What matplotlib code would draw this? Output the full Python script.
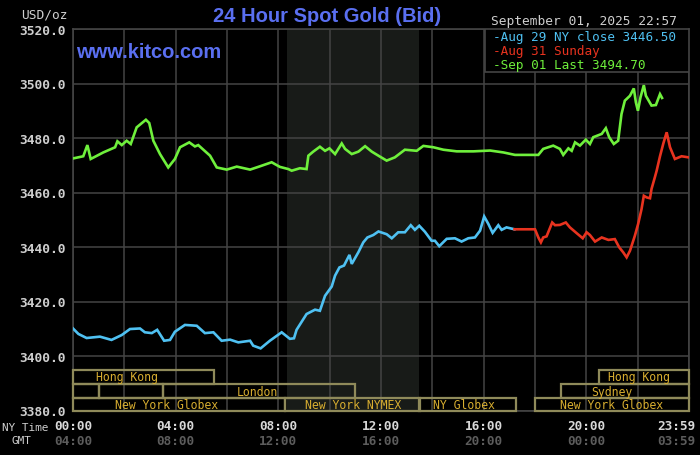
import matplotlib
matplotlib.use("Agg")
import matplotlib.pyplot as plt
from matplotlib.patches import Rectangle
from matplotlib.transforms import blended_transform_factory

# ---------------- data ----------------
blue_hours = [0.0, 0.21, 0.53, 1.05, 1.5, 1.9, 2.22, 2.61, 2.8, 3.07, 3.28, 3.55, 3.78, 3.97,
              4.36, 4.82, 5.14, 5.47, 5.79, 6.12, 6.44, 6.9, 7.02, 7.31, 7.67, 8.13, 8.45,
              8.61, 8.71, 9.1, 9.43, 9.62, 9.82, 10.08, 10.21, 10.38, 10.56, 10.77, 10.86,
              11.12, 11.31, 11.47, 11.7, 11.9, 12.22, 12.42, 12.67, 12.93, 13.16, 13.32,
              13.49, 13.71, 13.97, 14.1, 14.27, 14.56, 14.88, 15.14, 15.4, 15.66, 15.86,
              16.02, 16.18, 16.35, 16.57, 16.7, 16.89, 17.2]
blue_vals = [3410.1, 3408.1, 3406.6, 3407.1, 3405.9, 3407.7, 3409.9, 3410.1, 3408.7, 3408.4,
             3409.6, 3405.6, 3405.9, 3408.9, 3411.4, 3411.1, 3408.4, 3408.7, 3405.6, 3406.0,
             3405.0, 3405.6, 3403.8, 3402.8, 3405.6, 3408.7, 3406.3, 3406.5, 3409.6, 3415.4,
             3417.0, 3416.6, 3422.1, 3425.5, 3429.5, 3432.5, 3433.2, 3437.1, 3433.8, 3438.1,
             3441.7, 3443.5, 3444.4, 3445.7, 3444.7, 3443.2, 3445.4, 3445.4, 3448.0, 3446.3,
             3447.8, 3445.6, 3442.3, 3442.3, 3440.3, 3443.0, 3443.2, 3442.0, 3443.2, 3443.5,
             3446.0, 3451.2, 3448.5, 3445.2, 3448.0, 3446.3, 3447.2, 3446.5]

red_hours = [17.2, 18.0, 18.13, 18.23, 18.32, 18.45, 18.67, 18.78, 18.97, 19.2, 19.36, 19.62,
             19.86, 20.01, 20.14, 20.34, 20.6, 20.86, 21.11, 21.28, 21.44, 21.57, 21.7,
             21.89, 22.02, 22.15, 22.24, 22.35, 22.48, 22.54, 22.67, 22.74, 22.87, 23.0,
             23.13, 23.26, 23.45, 23.71, 23.98]
red_vals = [3446.5, 3446.5, 3443.5, 3441.7, 3443.5, 3443.9, 3449.0, 3448.0, 3448.1, 3449.0,
            3447.2, 3445.1, 3443.2, 3445.4, 3444.4, 3442.0, 3443.5, 3442.6, 3442.9, 3439.9,
            3438.0, 3436.2, 3438.6, 3444.1, 3448.5, 3453.9, 3458.8, 3458.2, 3457.9, 3461.3,
            3465.6, 3468.0, 3473.3, 3478.0, 3482.1, 3476.6, 3472.3, 3473.3, 3472.9]

green_hours = [0.0, 0.4, 0.56, 0.69, 1.18, 1.64, 1.73, 1.9, 2.09, 2.25, 2.48, 2.84, 2.97, 3.13,
               3.39, 3.71, 3.97, 4.17, 4.53, 4.75, 4.88, 5.34, 5.6, 5.99, 6.38, 6.9, 7.28,
               7.74, 8.06, 8.39, 8.52, 8.84, 9.1, 9.17, 9.36, 9.62, 9.82, 9.99, 10.21, 10.47,
               10.6, 10.86, 11.12, 11.38, 11.64, 11.9, 12.22, 12.54, 12.93, 13.39, 13.65,
               14.04, 14.43, 14.95, 15.6, 16.25, 16.77, 17.22, 18.13, 18.32, 18.71, 18.97,
               19.1, 19.3, 19.43, 19.56, 19.75, 19.98, 20.14, 20.27, 20.6, 20.76, 20.89,
               21.07, 21.24, 21.37, 21.5, 21.7, 21.85, 21.93, 22.01, 22.11, 22.24, 22.32,
               22.54, 22.71, 22.87, 22.95]
green_vals = [3472.5, 3473.3, 3477.4, 3472.3, 3474.7, 3476.6, 3478.8, 3477.4, 3479.0, 3477.8,
              3483.9, 3486.7, 3485.5, 3479.0, 3474.1, 3469.2, 3472.3, 3476.6, 3478.4, 3476.9,
              3477.4, 3473.5, 3469.2, 3468.4, 3469.5, 3468.4, 3469.6, 3471.1, 3469.4, 3468.6,
              3468.0, 3468.9, 3468.6, 3473.5, 3475.0, 3476.8, 3475.3, 3476.2, 3474.1, 3478.0,
              3476.0, 3474.1, 3475.0, 3477.0, 3475.0, 3473.5, 3471.7, 3472.9, 3475.7, 3475.3,
              3477.1, 3476.6, 3475.7, 3475.1, 3475.1, 3475.4, 3474.7, 3473.8, 3473.8, 3476.0,
              3477.2, 3476.0, 3473.8, 3476.2, 3475.3, 3478.4, 3477.2, 3479.4, 3477.8, 3480.3,
              3481.5, 3483.6, 3480.3, 3477.8, 3479.0, 3488.8, 3493.7, 3495.5, 3498.2, 3493.1,
              3490.0, 3494.9, 3499.4, 3495.5, 3491.9, 3492.1, 3496.1, 3494.7]

legend_labels = ["-Aug 29 NY close 3446.50", "-Aug 31 Sunday", "-Sep 01 Last 3494.70"]
series_colors = ["#4fc1f2", "#e8331f", "#6ff03c"]

y_ticks = [3380, 3400, 3420, 3440, 3460, 3480, 3500, 3520]
ny_tick_labels = ["00:00", "04:00", "08:00", "12:00", "16:00", "20:00", "23:59"]
gmt_tick_labels = ["04:00", "08:00", "12:00", "16:00", "20:00", "00:00", "03:59"]
tick_hours = [0, 4, 8, 12, 16, 20, 23.5]

# sessions: (label, start, end, row, label_x)
sessions = [
    ("Hong Kong", 0.0, 5.5, 0, 2.12),
    ("", 0.0, 1.0, 1, None),
    ("", 1.0, 3.5, 1, None),
    ("London", 3.5, 11.0, 1, 7.17),
    ("New York Globex", 0.0, 8.25, 2, 3.66),
    ("New York NYMEX", 8.25, 13.5, 2, 10.9),
    ("NY Globex", 13.5, 17.25, 2, 15.22),
    ("New York Globex", 18.0, 24.0, 2, 20.98),
    ("Sydney", 19.0, 24.0, 1, 20.98),
    ("Hong Kong", 20.5, 24.0, 0, 22.06),
]
nymex_shade = (8.333, 13.5)

# ---------------- figure ----------------
W, H = 700, 456
fig = plt.figure(figsize=(7, 4.56), dpi=100, facecolor="black")
L, R, T, B = 73, 689, 30, 411.5
ax = fig.add_axes([L / W, 1 - B / H, (R - L) / W, (B - T) / H])
ax.set_facecolor("black")
ax.set_xlim(0, 24)
ax.set_ylim(3380, 3520)

grid_c = "#444444"
for s in ax.spines.values():
    s.set_color(grid_c)
    s.set_linewidth(1.2)

ax.axvspan(nymex_shade[0], nymex_shade[1], color="#181b18", zorder=0, lw=0)
ax.set_xticks(list(range(0, 25, 2)))
ax.set_yticks(y_ticks)
ax.grid(True, color=grid_c, lw=1.1, zorder=1)
ax.tick_params(axis="both", length=0)
ax.set_xticklabels([])
ax.set_yticklabels([f"{v:.1f}" for v in y_ticks], family="DejaVu Sans Mono",
                   fontsize=9.3, color="#cfcfcf", fontweight="bold")
ax.tick_params(axis="y", pad=5)

# sessions
row_bounds = [(3389.8, 3395.0), (3384.5, 3389.8), (3380.0, 3384.5)]
sess_edge = "#8f8a5a"
sess_text = "#d8ae30"
for label, s0, s1, row, lx in sessions:
    y0, y1 = row_bounds[row]
    ax.add_patch(Rectangle((s0, y0), s1 - s0, y1 - y0, fill=False, ec=sess_edge,
                           lw=1.6, zorder=3, clip_on=False))
    if label:
        ax.text(lx, (y0 + y1) / 2, label, ha="center", va="center",
                family="DejaVu Sans Mono", fontsize=8.3, color=sess_text, zorder=4)

# lines
ax.plot(blue_hours, blue_vals, color=series_colors[0], lw=1.9, zorder=5,
        solid_joinstyle="miter")
ax.plot(red_hours, red_vals, color=series_colors[1], lw=1.9, zorder=5,
        solid_joinstyle="miter")
ax.plot(green_hours, green_vals, color=series_colors[2], lw=1.9, zorder=6,
        solid_joinstyle="miter")

# legend box
lx0 = (485 - L) / (R - L) * 24
ly0 = 3520 - (72.7 - T) / (B - T) * 140
ax.add_patch(Rectangle((lx0, ly0), 24 - lx0, 3520 - ly0, fc="black", ec=grid_c,
                       lw=1.2, zorder=7))
for i, (lab, col) in enumerate(zip(legend_labels, series_colors)):
    fig.text(493 / W, 1 - (37.7 + 13.8 * i) / H, lab, ha="left", va="center",
             family="DejaVu Sans Mono", fontsize=9.1, color=col, zorder=8)

# header texts
fig.text(327 / W, 1 - 16 / H, "24 Hour Spot Gold (Bid)", ha="center", va="center",
         family="Liberation Sans", fontsize=14.5, color="#5a6ff0", fontweight="bold")
fig.text(76 / W, 1 - 53 / H, "www.kitco.com", ha="left", va="center",
         family="Liberation Sans", fontsize=14.5, color="#5a6ff0", fontweight="bold")
fig.text(68 / W, 1 - 14.5 / H, "USD/oz", ha="right", va="center",
         family="DejaVu Sans Mono", fontsize=9.3, color="#cfcfcf")
fig.text(677 / W, 1 - 22 / H, "September 01, 2025 22:57", ha="right", va="center",
         family="DejaVu Sans Mono", fontsize=9.3, color="#cfcfcf")

# x labels
tr = blended_transform_factory(ax.transData, fig.transFigure)
for h, ny, gmt in zip(tick_hours, ny_tick_labels, gmt_tick_labels):
    ax.text(h, 1 - 427 / H, ny, transform=tr, ha="center", va="center",
            family="DejaVu Sans Mono", fontsize=9.2, color="#d8d8d8", fontweight="bold")
    ax.text(h, 1 - 442 / H, gmt, transform=tr, ha="center", va="center",
            family="DejaVu Sans Mono", fontsize=9.2, color="#5c5c5c", fontweight="bold")
fig.text(2 / W, 1 - 428 / H, "NY Time", ha="left", va="center",
         family="DejaVu Sans Mono", fontsize=7.9, color="#cfcfcf")
fig.text(12 / W, 1 - 441 / H, "GMT", ha="left", va="center",
         family="DejaVu Sans Mono", fontsize=7.9, color="#cfcfcf")

fig.savefig("out.png", dpi=100, facecolor="black")
